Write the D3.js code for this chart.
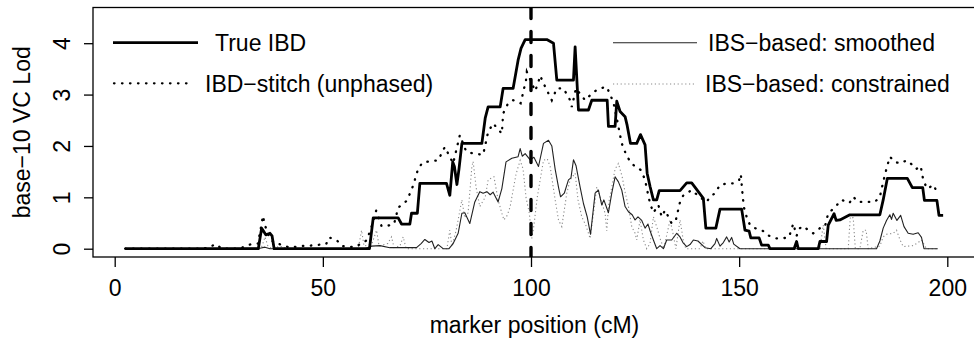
<!DOCTYPE html>
<html>
<head>
<meta charset="utf-8">
<script src="https://cdn.jsdelivr.net/npm/d3@7/dist/d3.min.js"></script>
<style>
  body { margin: 0; background: #fff; }
  svg { display: block; font-family: "Liberation Sans", Arial, Helvetica, sans-serif; }
</style>
</head>
<body>
<svg id="chart" width="974" height="346"></svg>
<script>
// marker positions (cM) and LOD scores
const trueIbdPos = [2.5, 34.5, 35.3, 36.3, 37.3, 37.8, 38.3, 61.2, 62.1, 68.1, 68.9, 70.9, 71.3, 72.7, 73.3, 79.7, 80.5, 81.2, 81.6, 82.2, 82.7, 83.4, 88.2, 89.0, 89.7, 92.6, 93.3, 95.7, 96.9, 97.6, 98.6, 103.8, 105.4, 106.2, 110.2, 110.6, 111.4, 113.8, 114.6, 118.3, 118.6, 120.2, 120.6, 121.4, 122.6, 123.1, 123.9, 125.4, 126.3, 127.4, 127.9, 128.6, 129.4, 130.2, 130.8, 135.8, 137.4, 138.6, 141.4, 142.0, 144.4, 145.4, 150.6, 151.4, 152.4, 152.8, 154.8, 155.4, 157.0, 157.4, 163.2, 163.8, 164.2, 169.0, 169.4, 171.0, 171.4, 172.8, 173.3, 174.2, 176.6, 183.8, 184.6, 185.6, 190.4, 191.6, 194.1, 194.5, 197.5, 198.0, 199.0];
const trueIbdLod = [0, 0, 0.40, 0.27, 0.30, 0.25, 0, 0, 0.60, 0.60, 0.48, 0.48, 0.69, 0.69, 1.27, 1.27, 1.04, 1.69, 1.60, 1.25, 1.55, 2.05, 2.05, 2.54, 2.76, 2.76, 3.12, 3.12, 3.67, 3.90, 4.07, 4.07, 4.00, 3.28, 3.28, 3.93, 2.70, 2.70, 2.89, 2.89, 2.38, 2.38, 2.87, 2.67, 2.57, 2.40, 2.05, 2.05, 2.22, 2.02, 1.47, 1.21, 0.95, 0.95, 1.13, 1.13, 1.28, 1.28, 0.98, 0.40, 0.40, 0.77, 0.77, 0.36, 0.34, 0.21, 0.21, 0.07, 0.07, 0, 0, 0.14, 0, 0, 0.14, 0.14, 0.46, 0.68, 0.55, 0.56, 0.66, 0.66, 0.95, 1.37, 1.37, 1.19, 1.19, 0.94, 0.94, 0.65, 0.65];

const stitchPos = [2.5, 20.5, 22.7, 24.1, 25.8, 30.1, 31.3, 33.3, 34.4, 35.3, 35.6, 36.1, 37.3, 38.5, 39.5, 42.1, 44.5, 46.9, 50.8, 51.5, 53.3, 54.6, 57.7, 60.5, 61.6, 62.8, 64.1, 65.7, 67.1, 68.1, 70.1, 71.3, 72.1, 72.9, 74.0, 75.7, 77.7, 79.3, 80.5, 81.3, 82.9, 84.4, 86.1, 88.5, 89.7, 90.9, 93.0, 93.3, 94.5, 95.7, 97.5, 98.8, 99.0, 101.0, 101.8, 102.2, 103.0, 105.0, 106.2, 107.8, 109.4, 109.8, 110.8, 113.0, 115.0, 116.6, 118.2, 119.8, 120.7, 121.4, 121.8, 123.0, 124.2, 125.0, 126.4, 127.4, 127.9, 128.6, 129.4, 129.8, 130.6, 131.4, 132.2, 133.8, 134.8, 135.8, 136.6, 138.6, 140.6, 142.2, 143.0, 144.2, 145.4, 147.0, 148.6, 150.0, 150.4, 150.9, 151.2, 151.8, 152.6, 153.8, 156.2, 157.2, 159.0, 161.3, 162.0, 163.0, 163.8, 164.6, 165.4, 166.6, 167.8, 169.4, 170.6, 171.4, 172.8, 174.6, 176.5, 177.4, 178.6, 182.6, 183.8, 184.6, 185.4, 186.2, 187.4, 188.6, 190.3, 191.2, 192.5, 193.6, 194.2, 195.1, 196.8, 197.5];
const stitchLod = [0, 0, 0.02, 0.09, 0, 0, 0.05, 0.10, 0.10, 0.49, 0.64, 0.45, 0.20, 0.10, 0.09, 0.02, 0.05, 0.06, 0.09, 0.22, 0.17, 0.05, 0.03, 0.16, 0.40, 0.74, 0.44, 0.45, 0.48, 0.80, 0.93, 1.14, 1.34, 1.56, 1.68, 1.70, 1.72, 1.98, 1.79, 1.66, 2.21, 1.90, 1.85, 1.83, 2.27, 2.44, 2.24, 2.63, 2.83, 2.89, 2.83, 3.28, 3.44, 3.07, 3.25, 3.37, 3.22, 2.89, 3.12, 3.12, 2.89, 2.76, 3.12, 2.89, 3.05, 3.12, 3.15, 2.85, 2.50, 2.21, 2.05, 1.80, 1.66, 1.60, 1.53, 1.34, 1.14, 0.88, 0.70, 0.75, 0.85, 0.62, 0.75, 0.49, 0.56, 0.91, 1.04, 1.14, 1.00, 0.91, 1.01, 1.08, 1.24, 1.27, 1.27, 1.34, 1.45, 0.98, 0.79, 0.62, 0.46, 0.40, 0.33, 0.25, 0.20, 0.21, 0.23, 0.49, 0.25, 0.40, 0.44, 0.36, 0.30, 0.40, 0.43, 0.69, 0.79, 0.95, 0.89, 1.01, 0.91, 0.91, 1.01, 1.30, 1.56, 1.79, 1.69, 1.66, 1.72, 1.66, 1.55, 1.61, 1.35, 1.17, 1.24, 1.08];

const ibsSmoothPos = [2.5, 34.9, 36.1, 37.3, 60.1, 61.7, 63.7, 66.1, 72.5, 73.6, 74.5, 75.5, 76.2, 76.9, 77.7, 78.9, 80.3, 81.3, 82.5, 83.4, 84.1, 85.3, 86.5, 87.7, 88.5, 89.4, 90.2, 90.9, 92.1, 93.0, 94.0, 95.4, 96.9, 97.4, 97.9, 98.6, 99.8, 100.7, 101.8, 103.0, 104.2, 105.0, 105.8, 106.6, 107.1, 108.0, 109.0, 109.6, 110.2, 110.8, 111.8, 112.6, 113.5, 114.3, 115.4, 116.2, 117.0, 117.5, 118.6, 119.4, 120.2, 121.0, 121.8, 122.6, 123.4, 124.3, 125.0, 125.7, 126.6, 127.4, 128.1, 128.6, 129.4, 130.2, 131.0, 131.8, 132.6, 133.8, 135.0, 135.8, 136.5, 137.4, 138.2, 139.0, 140.1, 141.8, 143.2, 144.2, 144.6, 145.4, 146.2, 147.0, 147.6, 148.2, 148.7, 150.2, 183.0, 183.8, 184.6, 185.4, 186.2, 186.6, 187.0, 187.9, 188.8, 189.6, 190.6, 191.8, 193.0, 193.8, 194.4, 197.7];
const ibsSmoothLod = [0, 0.01, 0.03, 0, 0, 0.05, 0.06, 0.02, 0.02, 0.10, 0.18, 0.12, 0.15, 0, 0.08, 0, 0, 0.10, 0.30, 0.69, 0.70, 0.49, 0.91, 1.11, 1.08, 1.11, 1.05, 1.10, 0.91, 1.17, 1.69, 1.76, 1.79, 1.95, 1.80, 1.85, 1.73, 1.78, 1.60, 2.05, 2.11, 2.00, 1.55, 1.20, 1.01, 1.08, 1.34, 1.38, 1.73, 1.62, 1.20, 0.88, 0.62, 0.28, 1.08, 1.14, 0.85, 0.95, 0.70, 1.08, 1.40, 1.30, 1.14, 0.82, 0.72, 0.66, 0.56, 0.62, 0.55, 0.40, 0.48, 0.35, 0.17, 0, 0.06, 0, 0.17, 0.17, 0.30, 0.23, 0.12, 0.04, 0.08, 0.17, 0.15, 0.02, 0, 0.10, 0.20, 0.05, 0.12, 0.23, 0.13, 0.22, 0.09, 0, 0, 0.15, 0.40, 0.55, 0.66, 0.57, 0.69, 0.55, 0.65, 0.43, 0.30, 0.28, 0.31, 0.22, 0, 0];

const ibsConstrPos = [2.5, 34.4, 35.4, 36.1, 36.8, 37.8, 39.7, 41.6, 58.5, 59.3, 59.9, 61.8, 62.9, 63.5, 65.6, 66.5, 67.1, 68.5, 69.3, 70.0, 79.8, 80.5, 81.0, 82.0, 83.4, 84.1, 84.9, 85.8, 86.1, 86.8, 87.7, 89.0, 89.7, 91.1, 92.1, 93.0, 93.5, 94.3, 95.0, 95.7, 96.4, 97.4, 98.1, 98.8, 99.6, 100.2, 100.7, 101.5, 102.2, 103.0, 103.9, 104.6, 105.8, 106.6, 107.4, 108.6, 109.4, 110.6, 111.3, 112.2, 113.2, 114.2, 115.1, 115.8, 116.6, 117.8, 118.2, 118.7, 119.4, 120.2, 121.0, 121.9, 122.6, 123.4, 124.2, 125.0, 125.4, 126.2, 127.0, 127.8, 128.6, 129.4, 130.3, 131.0, 131.9, 133.4, 134.1, 134.8, 135.8, 136.6, 137.2, 140.6, 141.3, 142.0, 169.4, 170.2, 170.9, 176.2, 176.7, 177.4, 177.9, 179.0, 179.8, 180.5, 181.0, 183.8, 184.6, 185.4, 187.0, 187.8, 188.6, 189.4, 191.8, 193.0, 193.8, 195.0, 197.7];
const ibsConstrLod = [0, 0, 0.05, 0.23, 0.05, 0, 0.05, 0, 0, 0.36, 0.05, 0.10, 0.36, 0.05, 0.10, 0.23, 0.02, 0.05, 0.23, 0, 0, 0.36, 0.05, 0.35, 0.95, 0.60, 0.70, 1.60, 1.70, 1.20, 0.82, 1.00, 1.34, 1.40, 0.95, 0.69, 0.56, 0.65, 0.82, 1.14, 1.45, 1.72, 1.55, 1.00, 0.69, 0.20, 0.45, 1.00, 1.34, 1.72, 1.75, 1.60, 0.95, 0.56, 0.43, 1.08, 1.34, 1.47, 0.95, 0.62, 0.45, 0.20, 0.75, 1.20, 1.00, 0.69, 0.35, 0.90, 1.20, 1.55, 1.66, 1.40, 1.10, 0.82, 0.43, 0.30, 0.17, 0.56, 0.17, 0, 0.10, 0.62, 0.40, 0.20, 0, 0.56, 0.30, 0, 0.56, 0.15, 0, 0, 0.15, 0, 0, 0.46, 0, 0, 0.62, 0.60, 0, 0, 0.36, 0.36, 0, 0.05, 0.23, 0.28, 0.30, 0.36, 0.18, 0.04, 0.06, 0.12, 0.17, 0, 0];

const xTicks = [0, 50, 100, 150, 200];
const yTicks = [0, 1, 2, 3, 4];
const markerLine = 100; // vertical reference at the true locus

const legendLeft = ['True IBD', 'IBD\u2212stitch (unphased)'];
const legendRight = ['IBS\u2212based: smoothed', 'IBS\u2212based: constrained'];

// plot box (R style) and scales
const box = { left: 93, right: 976, top: 7.5, bottom: 257 };
const x = d3.scaleLinear().domain([0, 200]).range([114.7, 947.3]);
const y = d3.scaleLinear().domain([0, 4]).range([248.7, 43.2]);

const svg = d3.select('#chart');
svg.append('rect').attr('width', 974).attr('height', 346).attr('fill', '#fff');

svg.append('clipPath').attr('id', 'plotclip')
  .append('rect')
  .attr('x', box.left).attr('y', box.top)
  .attr('width', box.right - box.left).attr('height', box.bottom - box.top);

const plot = svg.append('g').attr('clip-path', 'url(#plotclip)');

const line = d3.line().x(d => x(d[0])).y(d => y(d[1]));
const zip = (a, b) => a.map((v, i) => [v, b[i]]);

// series, drawn back to front
plot.append('path')
  .attr('d', line(zip(ibsConstrPos, ibsConstrLod)))
  .attr('fill', 'none').attr('stroke', '#8a8a8a').attr('stroke-width', 1.1)
  .attr('stroke-dasharray', '1.2,2.6');

plot.append('path')
  .attr('d', line(zip(ibsSmoothPos, ibsSmoothLod)))
  .attr('fill', 'none').attr('stroke', '#222').attr('stroke-width', 1.1)
  .attr('stroke-linejoin', 'round');

plot.append('path')
  .attr('d', line(zip(stitchPos, stitchLod)))
  .attr('fill', 'none').attr('stroke', '#000').attr('stroke-width', 2.3)
  .attr('stroke-linecap', 'round').attr('stroke-dasharray', '0.5,7.5');

plot.append('path')
  .attr('d', line(zip(trueIbdPos, trueIbdLod)))
  .attr('fill', 'none').attr('stroke', '#000').attr('stroke-width', 2.8)
  .attr('stroke-linejoin', 'round');

// dashed line at the disease locus
plot.append('line')
  .attr('x1', x(markerLine)).attr('x2', x(markerLine))
  .attr('y1', box.top).attr('y2', box.bottom)
  .attr('stroke', '#000').attr('stroke-width', 3.4)
  .attr('stroke-linecap', 'round').attr('stroke-dasharray', '11,13');

// frame
svg.append('rect')
  .attr('x', box.left).attr('y', box.top)
  .attr('width', box.right - box.left).attr('height', box.bottom - box.top)
  .attr('fill', 'none').attr('stroke', '#000').attr('stroke-width', 1.3);

// x axis
const xAxis = svg.append('g')
  .attr('transform', `translate(0,${box.bottom})`)
  .call(d3.axisBottom(x).tickValues(xTicks).tickFormat(d3.format('d')).tickSize(10).tickPadding(12.5));
xAxis.select('.domain').remove();
xAxis.selectAll('line').attr('stroke', '#000').attr('stroke-width', 1.3);
xAxis.selectAll('text').attr('font-size', 23).attr('font-family', null).attr('fill', '#000');

// y axis, labels rotated like R's default
const yAxis = svg.append('g')
  .attr('transform', `translate(${box.left},0)`)
  .call(d3.axisLeft(y).tickValues(yTicks).tickFormat(d3.format('d')).tickSize(9));
yAxis.select('.domain').remove();
yAxis.selectAll('line').attr('stroke', '#000').attr('stroke-width', 1.3);
yAxis.selectAll('text')
  .attr('x', null).attr('dy', null)
  .attr('text-anchor', 'middle')
  .attr('transform', 'translate(-23,0) rotate(-90)')
  .attr('font-size', 23).attr('font-family', null).attr('fill', '#000');

// axis titles
svg.append('text')
  .attr('x', (box.left + box.right) / 2).attr('y', 333)
  .attr('text-anchor', 'middle').attr('font-size', 23)
  .text('marker position (cM)');

svg.append('text')
  .attr('transform', `translate(30,${(box.top + box.bottom) / 2}) rotate(-90)`)
  .attr('text-anchor', 'middle').attr('font-size', 23)
  .text('base\u221210 VC Lod');

// legends
const legend = svg.append('g').attr('font-size', 23);
const legendRows = [
  { label: legendLeft[0], x1: 113, x2: 198, y: 42.7, tx: 215, stroke: '#000', w: 2.8, dash: null, cap: 'butt' },
  { label: legendLeft[1], x1: 114, x2: 192, y: 83.3, tx: 205, stroke: '#000', w: 2.3, dash: '0.5,7.5', cap: 'round' },
  { label: legendRight[0], x1: 613, x2: 697, y: 42.7, tx: 708, stroke: '#222', w: 1.1, dash: null, cap: 'butt' },
  { label: legendRight[1], x1: 613, x2: 694, y: 84, tx: 705, stroke: '#8a8a8a', w: 1.1, dash: '1.2,2.6', cap: 'butt' }
];
legendRows.forEach(r => {
  legend.append('line')
    .attr('x1', r.x1).attr('x2', r.x2).attr('y1', r.y).attr('y2', r.y)
    .attr('stroke', r.stroke).attr('stroke-width', r.w)
    .attr('stroke-linecap', r.cap).attr('stroke-dasharray', r.dash);
  legend.append('text')
    .attr('x', r.tx).attr('y', r.y + 8.4)
    .text(r.label);
});
</script>
</body>
</html>
